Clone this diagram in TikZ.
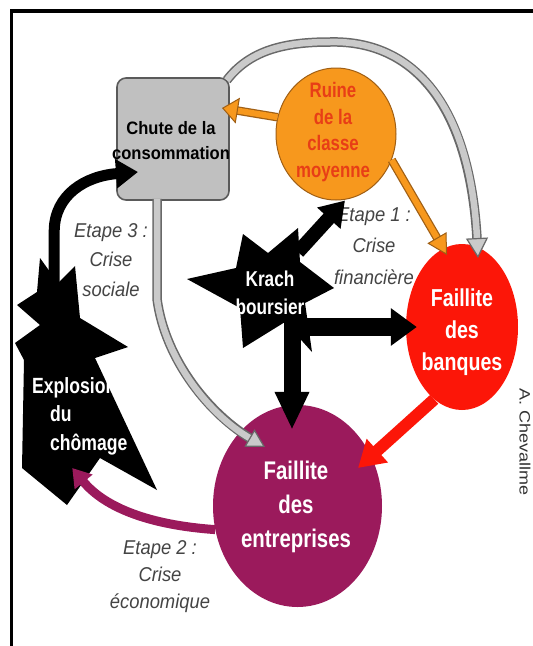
\documentclass[tikz,border=0pt]{standalone}
\usepackage{fontspec}
\usetikzlibrary{shapes.geometric,arrows.meta}
\setmainfont{Liberation Sans}
\newfontfamily\serre[FakeStretch=0.8]{Liberation Sans}
\newfontfamily\demiserre[FakeStretch=0.92]{Liberation Sans}
\newfontfamily\signature[FakeStretch=1.2]{Liberation Sans}
\definecolor{orangec}{RGB}{247,152,29}
\definecolor{orangebord}{RGB}{160,95,20}
\definecolor{rougetxt}{RGB}{232,62,22}
\definecolor{rougec}{RGB}{252,22,8}
\definecolor{prune}{RGB}{155,26,92}
\definecolor{grisclair}{RGB}{202,202,202}
\definecolor{grisfonce}{RGB}{105,105,105}
\definecolor{boite}{RGB}{192,192,192}
\definecolor{grisbord}{RGB}{90,90,90}
\definecolor{etiquette}{RGB}{68,68,68}

\begin{document}
\begin{tikzpicture}[x=1pt,y=-1pt,
  bulle/.style={ellipse,inner sep=0pt},
  texte/.style={text=white,align=center,inner sep=0pt},
  etape/.style={text=etiquette,align=center,inner sep=0pt,font=\demiserre\itshape\fontsize{20}{#1}\selectfont},
  noire/.style={black,line width=#1},
  gris/.style={grisclair,line width=6.5,preaction={draw=grisfonce,line width=9.5,arrows=-,shorten >=#1}},
  orange/.style={orangec,line width=6,preaction={draw=orangebord,line width=8.5,arrows=-,shorten >=#1}}]
\useasboundingbox (0,0) rectangle (533,646);
\fill[white] (0,0) rectangle (533,646);
% cadre
\draw[line width=3.5] (11.7,660) -- (11.7,11) -- (545,11);

% les bulles
\node[rectangle,rounded corners=9,draw=grisbord,line width=1.6,fill=boite,minimum width=112,minimum height=122,inner sep=0pt] (chute) at (173,139) {};
\node[bulle,fill=orangec,draw=orangebord,line width=1,minimum width=120,minimum height=132] (ruine) at (336,134) {};
\node[bulle,fill=rougec,minimum width=112,minimum height=166] (banques) at (462,327) {};
\node[bulle,fill=prune,minimum width=169,minimum height=202] (entreprises) at (297.5,506) {};

% les etoiles
\fill (187,279) -- (236,268) -- (243,234) -- (268,253) -- (298,228) -- (300,262) -- (334,288) -- (305,303) -- (312,352) -- (285,322) -- (243,348) -- (240,308) -- cycle;
\fill (17,305) -- (37,292) -- (40,258) -- (58,283) -- (75,266) -- (80,318) -- (128,347) -- (95,358) -- (157,490) -- (100,458) -- (67,505) -- (22,468) -- (24,360) -- (15,343) -- (40,325) -- cycle;

% les textes
\node[texte,text=black,font=\demiserre\bfseries\fontsize{18}{25}\selectfont] (chutetxt) at (171,140.5) {Chute de la\\consommation};
\node[texte,text=rougetxt,font=\serre\bfseries\fontsize{21}{26.7}\selectfont] (ruinetxt) at (333,132) {Ruine\\de la\\classe\\moyenne};
\node[texte,font=\serre\bfseries\fontsize{24.5}{32}\selectfont] (banquestxt) at (462,332) {Faillite\\des\\banques};
\node[texte,font=\serre\bfseries\fontsize{25.5}{34}\selectfont] (entreprisestxt) at (296,507) {Faillite\\des\\entreprises};
\node[texte,font=\serre\bfseries\fontsize{21.5}{28}\selectfont] (krach) at (270,293) {Krach\\boursier};
\node[texte,align=left,anchor=west,font=\serre\bfseries\fontsize{22}{28.5}\selectfont] (explo) at (32,416) {Explosion\\\hspace*{18pt}du\\\hspace*{18pt}chômage};
\node[etape=29.5] (etape3) at (111,260) {Etape 3 :\\Crise\\sociale};
\node[etape=31.5] (etape1) at (374,246) {Etape 1 :\\Crise\\financière};
\node[etape=27] (etape2) at (160,577) {Etape 2 :\\Crise\\économique};
\node[rotate=-90,inner sep=0pt,text=black!80,font=\signature\fontsize{15}{18}\selectfont] (auteur) at (525,442) {A. Chevallme};

% les fleches
\draw[gris=16,-{Triangle[width=22pt,length=20pt,color=grisfonce,fill=grisclair,line width=1.2pt]}] ([xshift=-3pt,yshift=-3pt]chute.north east) .. controls (250,50) and (285,42) .. (330,42) .. controls (410,40) and (470,100) .. ([xshift=16pt,yshift=69pt]banques.center);
\draw[gris=14,-{Triangle[width=20pt,length=18pt,color=grisfonce,fill=grisclair,line width=1.2pt]}] ([xshift=-16pt,yshift=2pt]chute.south) -- ++(0,100) .. controls (165,360) and (210,415) .. ([xshift=-32.5pt,yshift=59pt]entreprises.center);
\draw[orange=12,-{Triangle[width=26pt,length=16pt,color=orangebord,fill=orangec,line width=1pt]}] (ruine.164) -- ([xshift=49pt,yshift=31pt]chute.center);
\draw[orange=16,-{Triangle[width=22pt,length=20pt,color=orangebord,fill=orangec,line width=1pt]}] (ruine.-25) -- ([xshift=-15pt,yshift=72pt]banques.center);
\draw[noire=14,-{Triangle[width=30pt,length=24pt]}] ([xshift=28pt,yshift=41pt]krach.center) -- ([xshift=9pt]ruine.south);
\draw[noire=18,-{Triangle[width=36pt,length=26pt]}] ([xshift=30pt,yshift=-34pt]krach.center) -- ([xshift=11pt]banques.west);
\draw[noire=17,-{Triangle[width=32pt,length=38pt]}] ([xshift=22pt,yshift=-27pt]krach.center) -- ([xshift=-5.5pt,yshift=-25pt]entreprises.north);
\draw[rougec,line width=12,-{Triangle[width=30pt,length=26pt]}] (banques.-111) -- ([xshift=60.5pt,yshift=38pt]entreprises.center);
\draw[prune,line width=9,-{Triangle[width=22pt,length=18pt]}] (entreprises.196) .. controls (150,525) and (105,508) .. ([xshift=-7.6pt,yshift=-52pt]explo.center);
\draw[noire=11,-{Triangle[width=28pt,length=22pt]}] ([xshift=-25.6pt,yshift=116pt]explo.center) -- ++(0,-70) .. controls (55,195) and (85,176) .. ([xshift=-35pt,yshift=-33pt]chute.center);
\end{tikzpicture}
\end{document}
